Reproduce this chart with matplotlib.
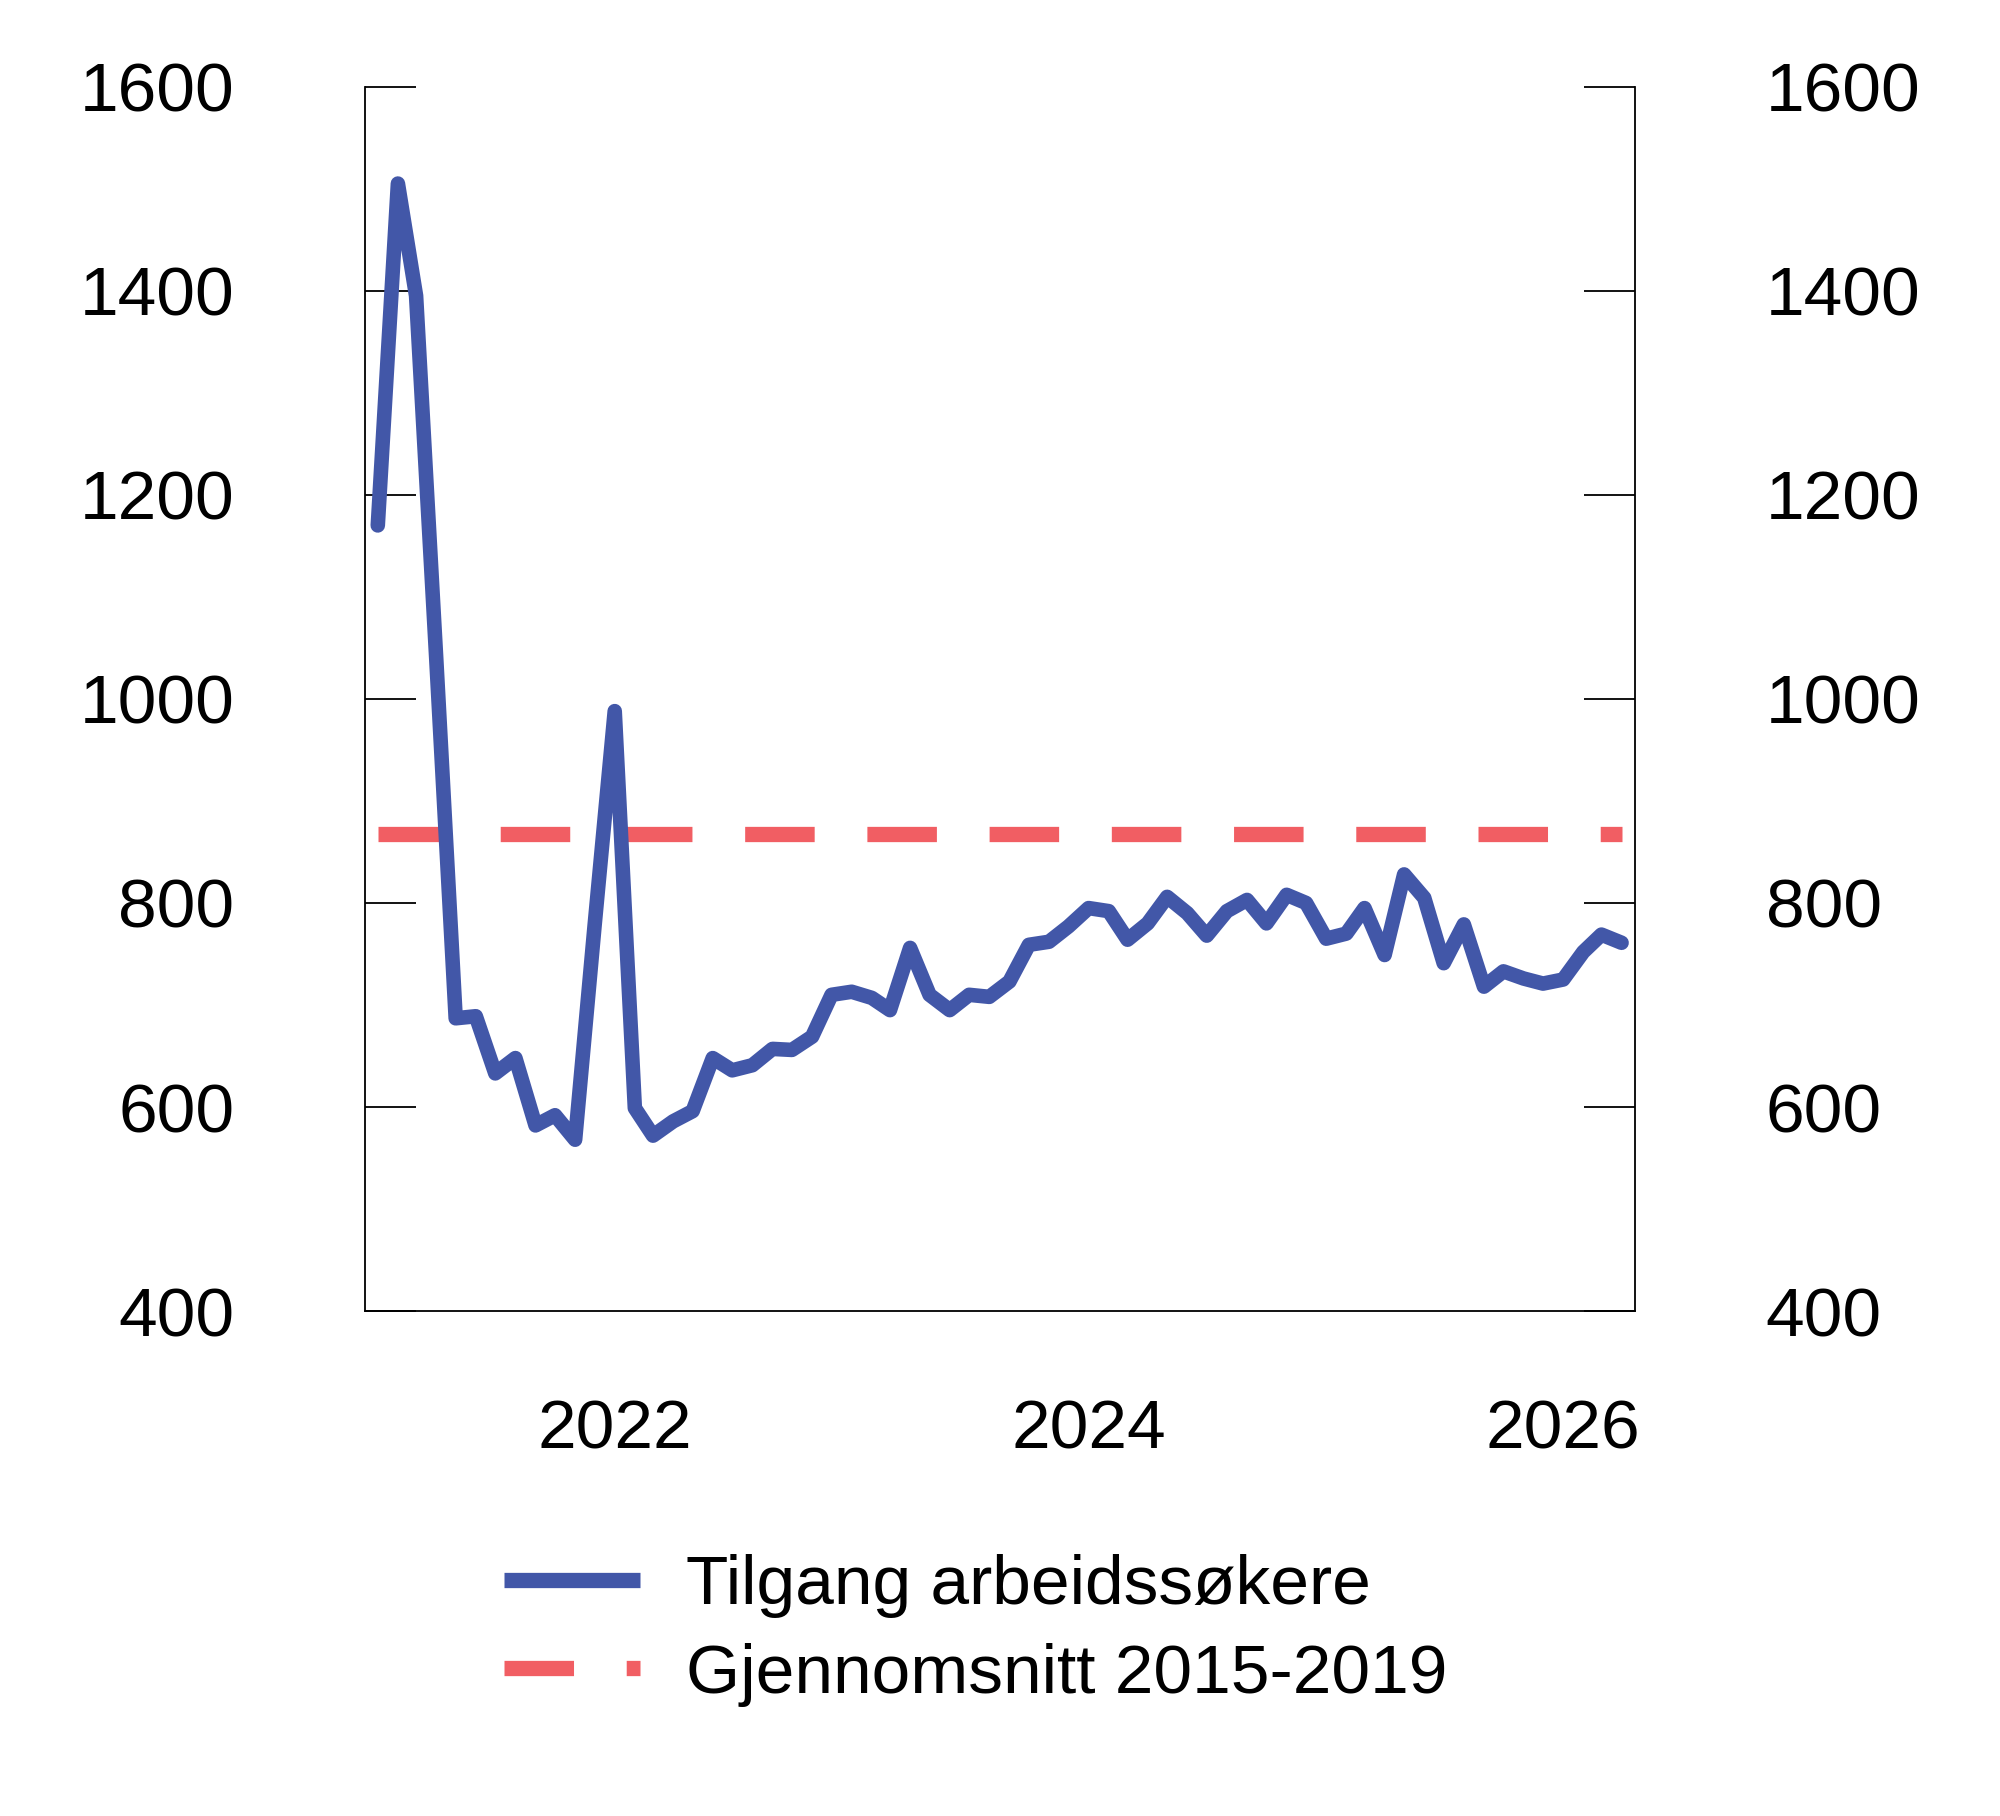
import matplotlib
matplotlib.use('Agg')
import matplotlib.pyplot as plt
from matplotlib.lines import Line2D
import pandas as pd

plt.rcParams['font.family'] = ['Liberation Sans', 'DejaVu Sans']

# monthly values, Jan 2021 - Apr 2026
months = pd.date_range('2021-01-01', periods=64, freq='MS')
tilgang = [1170, 1505, 1395, 1040, 687, 689, 633, 648, 582, 592,
           568, 778, 988, 599, 572, 586, 596, 648, 636, 641,
           657, 656, 669, 710, 713, 707, 695, 756, 710, 695,
           710, 708, 723, 759, 762, 777, 795, 792, 764, 780,
           806, 790, 768, 792, 803, 780, 808, 800, 765, 770,
           795, 749, 828, 805, 741, 779, 718, 733, 726, 721,
           725, 752, 769, 761]
snitt_2015_2019 = 868

yticks = [400, 600, 800, 1000, 1200, 1400, 1600]
xticks = pd.to_datetime(['2022-01-01', '2024-01-01', '2026-01-01'])
xticklabels = ['2022', '2024', '2026']
labels = ['Tilgang arbeidssøkere', 'Gjennomsnitt 2015-2019']

blue = '#4257A8'
red = '#F15E63'
dash = (4.55, 3.45)

fig = plt.figure(figsize=(20, 18.16), dpi=100)
ax = fig.add_axes([0.1824, 0.2780, 0.6352, 0.6743])

ax.plot(months, tilgang, color=blue, lw=10.5, solid_capstyle='round',
        solid_joinstyle='round', zorder=3)
ax.plot(months, [snitt_2015_2019] * len(months), color=red, lw=11,
        dashes=dash, dash_capstyle='butt', zorder=2)

ax.set_ylim(400, 1600)
ax.set_yticks(yticks)
ax.set_xlim(pd.Timestamp('2020-12-12'), pd.Timestamp('2026-04-22'))
ax.set_xticks(xticks)
ax.set_xticklabels(xticklabels)

ax.spines['top'].set_visible(False)
for s in ['left', 'right', 'bottom']:
    ax.spines[s].set_linewidth(1.3)

ax.tick_params(axis='y', which='both', left=True, right=True,
               labelleft=True, labelright=True, direction='in',
               length=37, width=1.3, pad=94, labelsize=50)
ax.tick_params(axis='x', length=0, pad=63, labelsize=50)

# legend handles with flat ends like the original
handles = [Line2D([], [], color=blue, lw=11, solid_capstyle='butt'),
           Line2D([], [], color=red, lw=11, dashes=dash, dash_capstyle='butt')]
fig.legend(handles, labels, loc='upper left', bbox_to_anchor=(0.252, 0.144),
           frameon=False, fontsize=50, handlelength=1.96, handletextpad=0.66,
           labelspacing=0.35, borderaxespad=0, borderpad=0)

fig.savefig('out.png', dpi=100)
